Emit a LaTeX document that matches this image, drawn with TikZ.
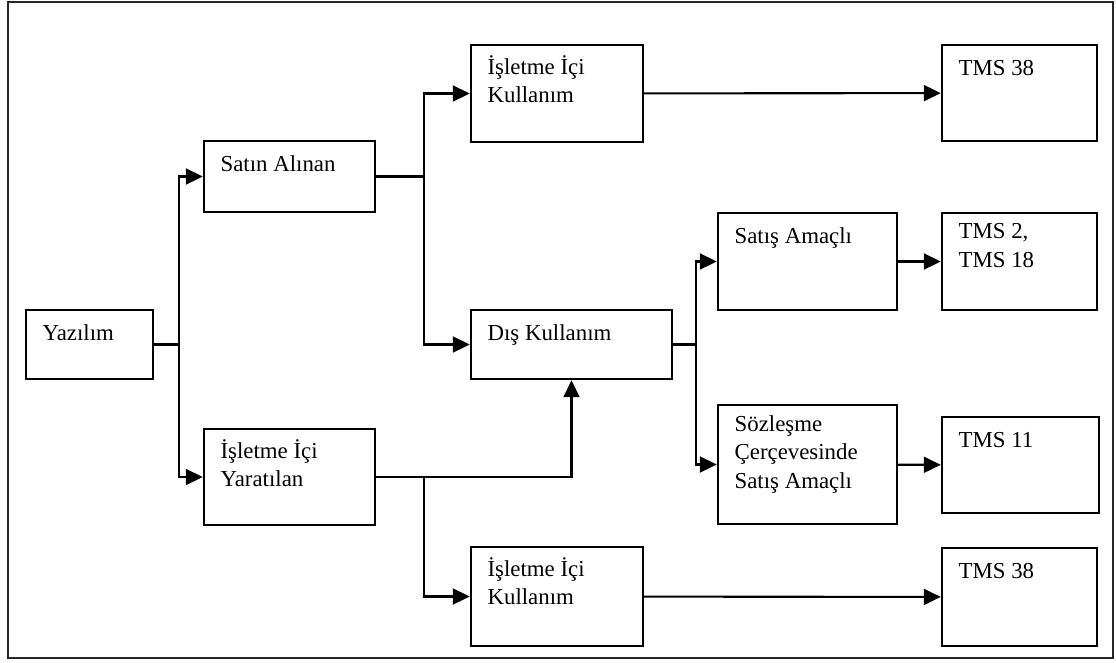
\documentclass[tikz,border=0pt]{standalone}
\usepackage{fontspec}
\setmainfont{Liberation Serif}
\usetikzlibrary{arrows.meta,calc}
\tikzset{
	kutu/.style={draw, line width=1.4pt, inner sep=0pt},
	metin/.style={anchor=north west, align=left, inner sep=0pt, xshift=0.35cm, yshift=-0.23cm, font=\fontsize{13}{16.2}\selectfont, execute at begin node=\strut},
	ok/.style={line width=1.2pt, -{Triangle[length=0.34cm,width=0.32cm]}},
	hat/.style={line width=1.2pt}
}
\begin{document}
\begin{tikzpicture}
		\useasboundingbox (0,0) rectangle (22.32,-13.24);
		\draw[line width=1.2pt, black!85] (0.16,-0.04) rectangle (22.26,-13.16);
		
		\node[kutu, minimum width=2.54cm, minimum height=1.38cm, label={[metin]north west:Yazılım}] (yaz) at (1.79,-6.89) {};
		\node[kutu, minimum width=3.42cm, minimum height=1.42cm, label={[metin]north west:Satın Alınan}] (satin) at (5.79,-3.53) {};
		\node[kutu, minimum width=3.42cm, minimum height=1.92cm, label={[metin]north west:İşletme İçi\\Yaratılan}] (yarat) at (5.79,-9.54) {};
		\node[kutu, minimum width=3.44cm, minimum height=1.94cm, label={[metin]north west:İşletme İçi\\Kullanım}] (ickA) at (11.14,-1.87) {};
		\node[kutu, minimum width=4.02cm, minimum height=1.38cm, label={[metin]north west:Dış Kullanım}] (dis) at (11.43,-6.89) {};
		\node[kutu, minimum width=3.44cm, minimum height=1.98cm, label={[metin]north west:İşletme İçi\\Kullanım}] (ickB) at (11.14,-11.93) {};
		\node[kutu, minimum width=3.58cm, minimum height=1.94cm, label={[metin]north west:Satış Amaçlı}] (satis) at (16.15,-5.23) {};
		\node[kutu, minimum width=3.58cm, minimum height=2.38cm, label={[metin]north west:Sözleşme\\Çerçevesinde\\Satış Amaçlı}] (sozl) at (16.15,-9.29) {};
		\node[kutu, minimum width=3.10cm, minimum height=1.92cm, label={[metin]north west:TMS 38}] (tmsA) at (20.39,-1.86) {};
		\node[kutu, minimum width=3.10cm, minimum height=1.94cm, label={[metin]north west:TMS 2,\\TMS 18}] (tmsB) at (20.39,-5.23) {};
		\node[kutu, minimum width=3.14cm, minimum height=1.92cm, label={[metin]north west:TMS 11}] (tmsC) at (20.41,-9.30) {};
		\node[kutu, minimum width=3.10cm, minimum height=1.96cm, label={[metin]north west:TMS 38}] (tmsD) at (20.39,-11.94) {};
		
		\draw[hat] (yaz.east) -- ++(0.5,0) coordinate (c1);
		\draw[ok] (c1) |- (satin.west);
		\draw[ok] (c1) |- (yarat.west);
		
		\draw[hat] (satin.east) -- ++(0.96,0) coordinate (c2);
		\draw[ok] (c2) |- (ickA.west);
		\draw[ok] (c2) |- (dis.west);
		
		\draw[ok] (yarat.east) -| (dis.south);
		\coordinate (c3) at ($(yarat.east)+(0.96,0)$);
		\draw[ok] (c3) |- (ickB.west);
		
		\draw[hat] (dis.east) -- ++(0.46,0) coordinate (c4);
		\draw[ok] (c4) |- (satis.west);
		\draw[ok] (c4) |- (sozl.west);
		
		\draw[ok] (ickA) -- (tmsA);
		\draw[ok] (satis) -- (tmsB);
		\draw[ok] (sozl) -- (tmsC);
		\draw[ok] (ickB) -- (tmsD);
	\end{tikzpicture}
\end{document}
